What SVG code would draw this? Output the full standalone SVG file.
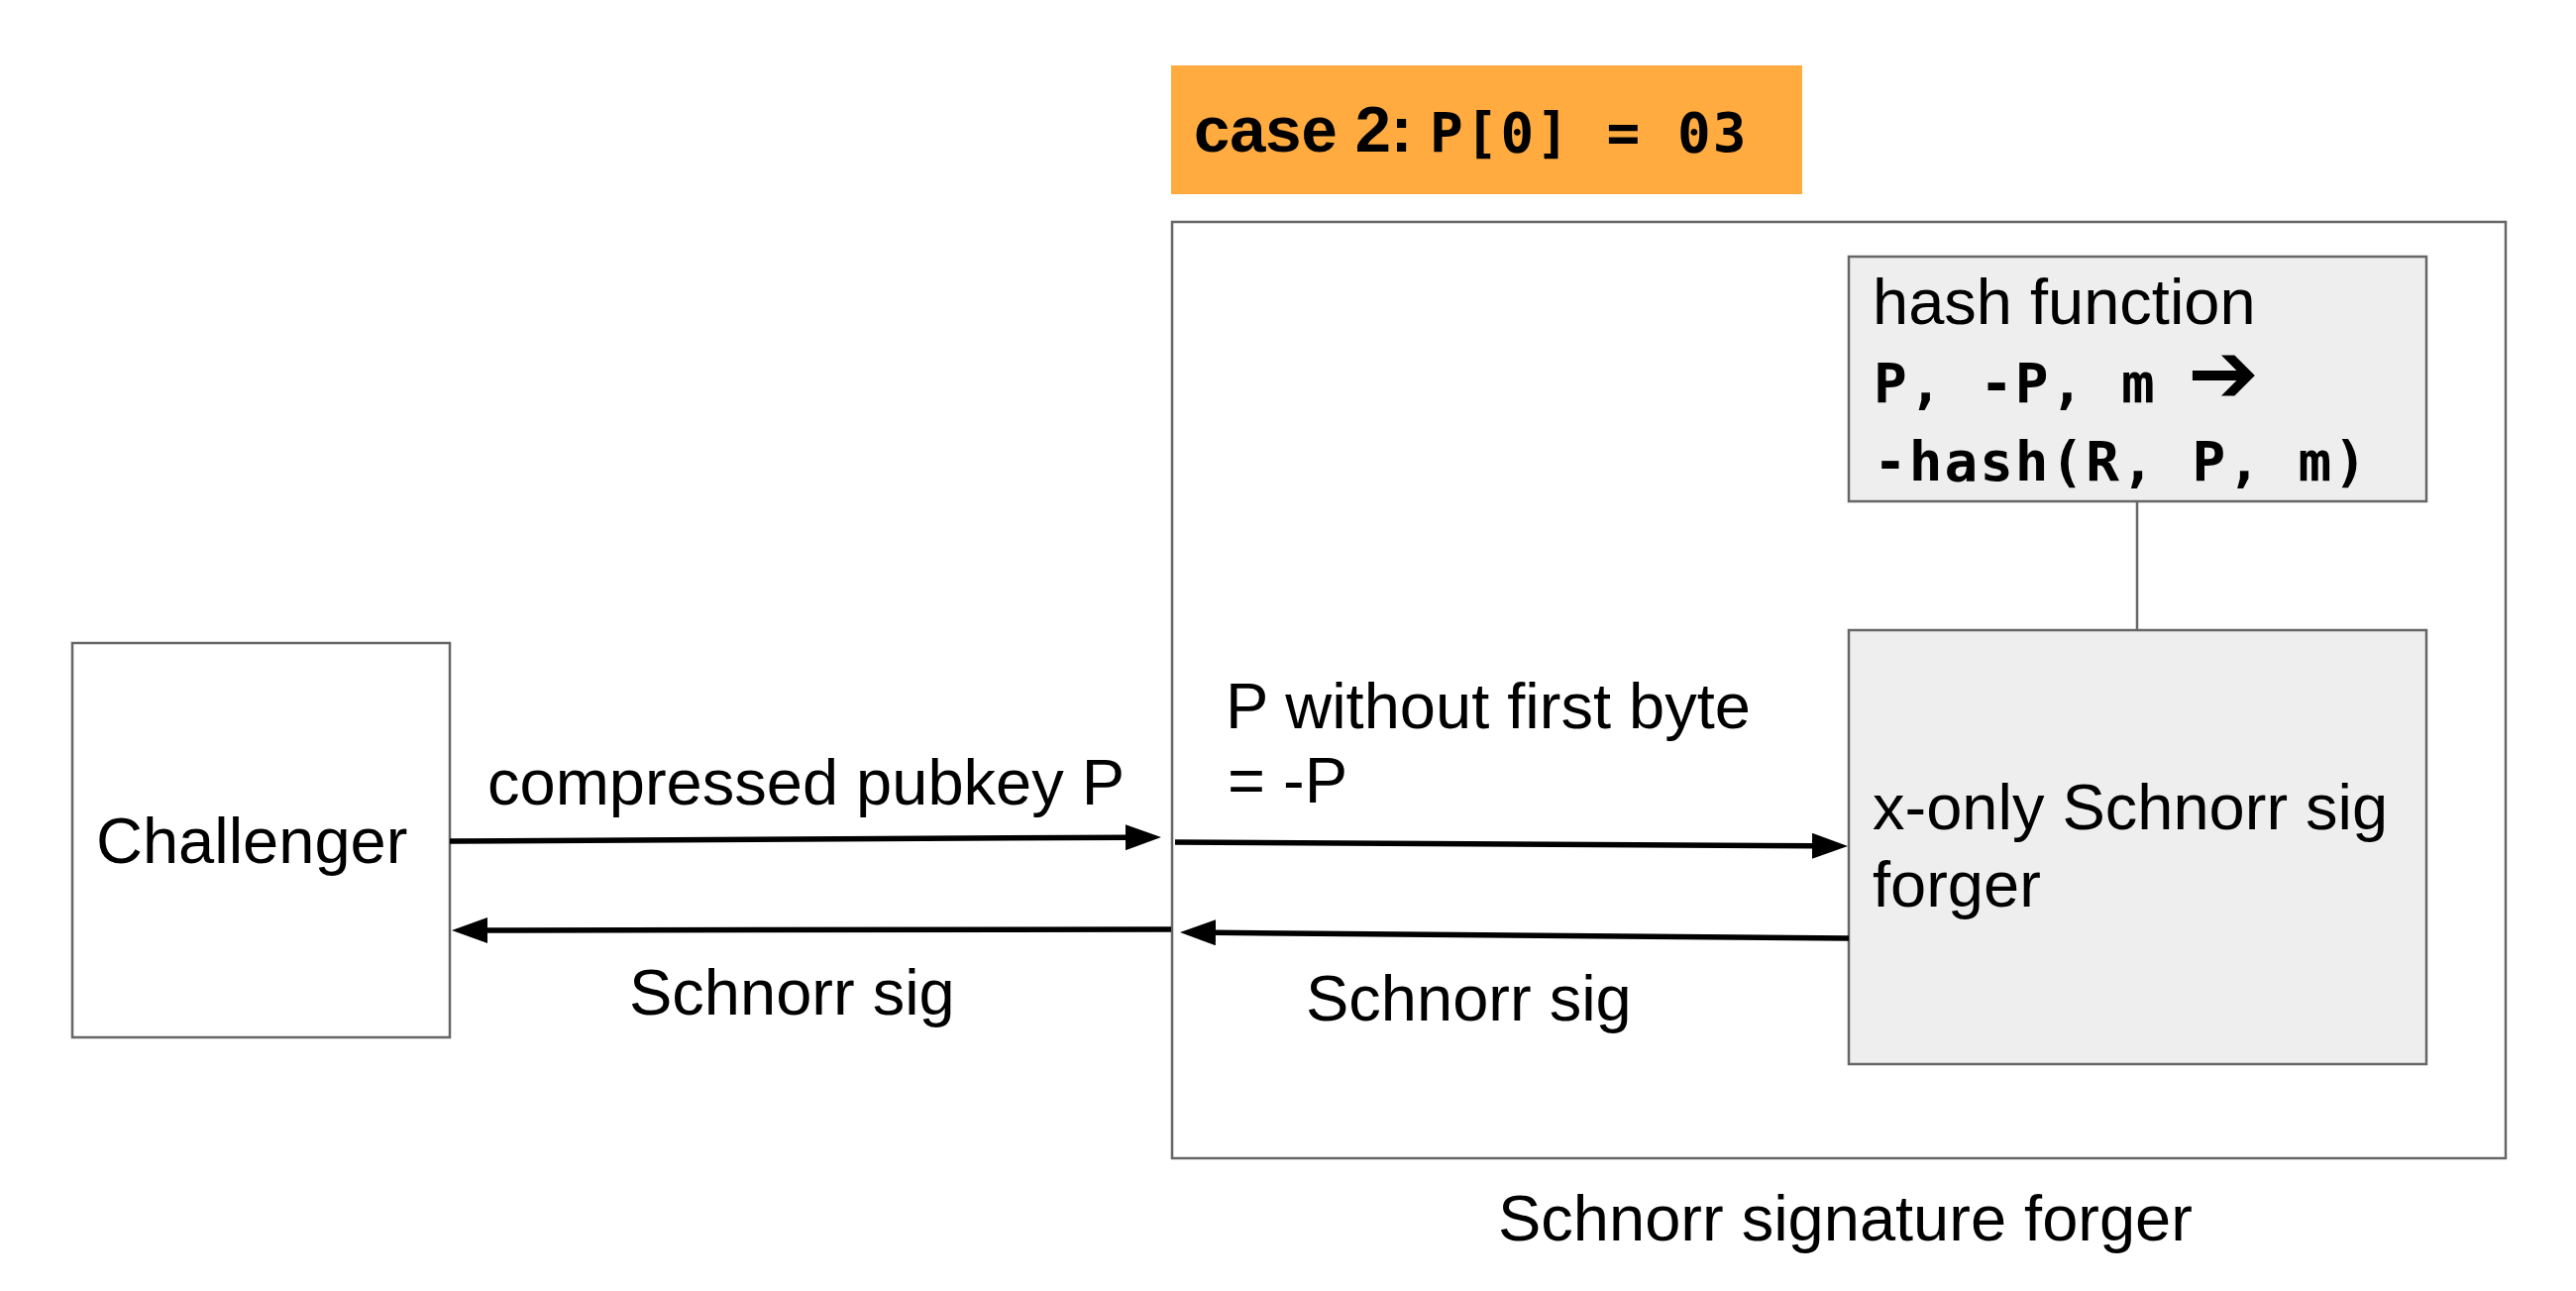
<svg xmlns="http://www.w3.org/2000/svg" width="2600" height="1303" viewBox="0 0 2600 1303">
<style>
.box{stroke:#666666;stroke-width:2.5}
.t{font-family:"Liberation Sans",Arial,sans-serif;font-size:65px;fill:#000}
.m{font-family:"DejaVu Sans Mono","Liberation Mono",monospace;font-size:56px;font-weight:bold;letter-spacing:2px;fill:#000}
.sym{font-family:"DejaVu Sans",sans-serif;font-size:86px;font-weight:bold;letter-spacing:0}
.arr{stroke:#000;stroke-width:5.5;fill:none;marker-end:url(#ah)}
</style>
<defs>
<marker id="ah" viewBox="0 0 36 26" markerWidth="36" markerHeight="26" markerUnits="userSpaceOnUse" refX="1" refY="13" orient="auto">
<path d="M0,0 L36,13 L0,26 Z" fill="#000"/>
</marker>
</defs>
<rect width="2600" height="1303" fill="#fff"/>

<g id="case-label">
<rect x="1182" y="66" width="637" height="130" fill="#ffab40"/>
<text x="1205" y="153" class="t" style="font-weight:bold">case 2:</text>
<text x="1443" y="153" class="m">P[0] = 03</text>
</g>

<g id="schnorr-signature-forger">
<rect class="box" x="1183" y="224" width="1346" height="945" fill="#fff"/>
<text class="t" x="1512" y="1252">Schnorr signature forger</text>
</g>

<g id="hash-function">
<rect class="box" x="1866" y="259" width="583" height="247" fill="#eeeeee"/>
<text class="t" x="1890" y="327">hash function</text>
<text class="m" x="1891" y="406">P, -P, m <tspan class="sym" x="2208">➔</tspan></text>
<text class="m" x="1891" y="485">-hash(R, P, m)</text>
</g>

<g id="xonly-forger">
<rect class="box" x="1866" y="636" width="583" height="438" fill="#eeeeee"/>
<text class="t" x="1890" y="837">x-only Schnorr sig</text>
<text class="t" x="1890" y="915">forger</text>
</g>

<g id="challenger">
<rect class="box" x="73" y="649" width="381" height="398" fill="#fff"/>
<text class="t" x="97" y="871">Challenger</text>
</g>

<g id="connectors">
<line x1="2157" y1="506" x2="2157" y2="636" stroke="#666666" stroke-width="2.5"/>
<path class="arr" d="M454,849 L1137,845.2"/>
<path class="arr" d="M1182,938 L491,939"/>
<path class="arr" d="M1186,850 L1830,853.8"/>
<path class="arr" d="M1866,947 L1226,941.3"/>
</g>

<g id="labels">
<text class="t" x="492" y="812">compressed pubkey P</text>
<text class="t" x="635" y="1024">Schnorr sig</text>
<text class="t" x="1237" y="735">P without first byte</text>
<text class="t" x="1239" y="810">= -P</text>
<text class="t" x="1318" y="1030">Schnorr sig</text>
</g>
</svg>
